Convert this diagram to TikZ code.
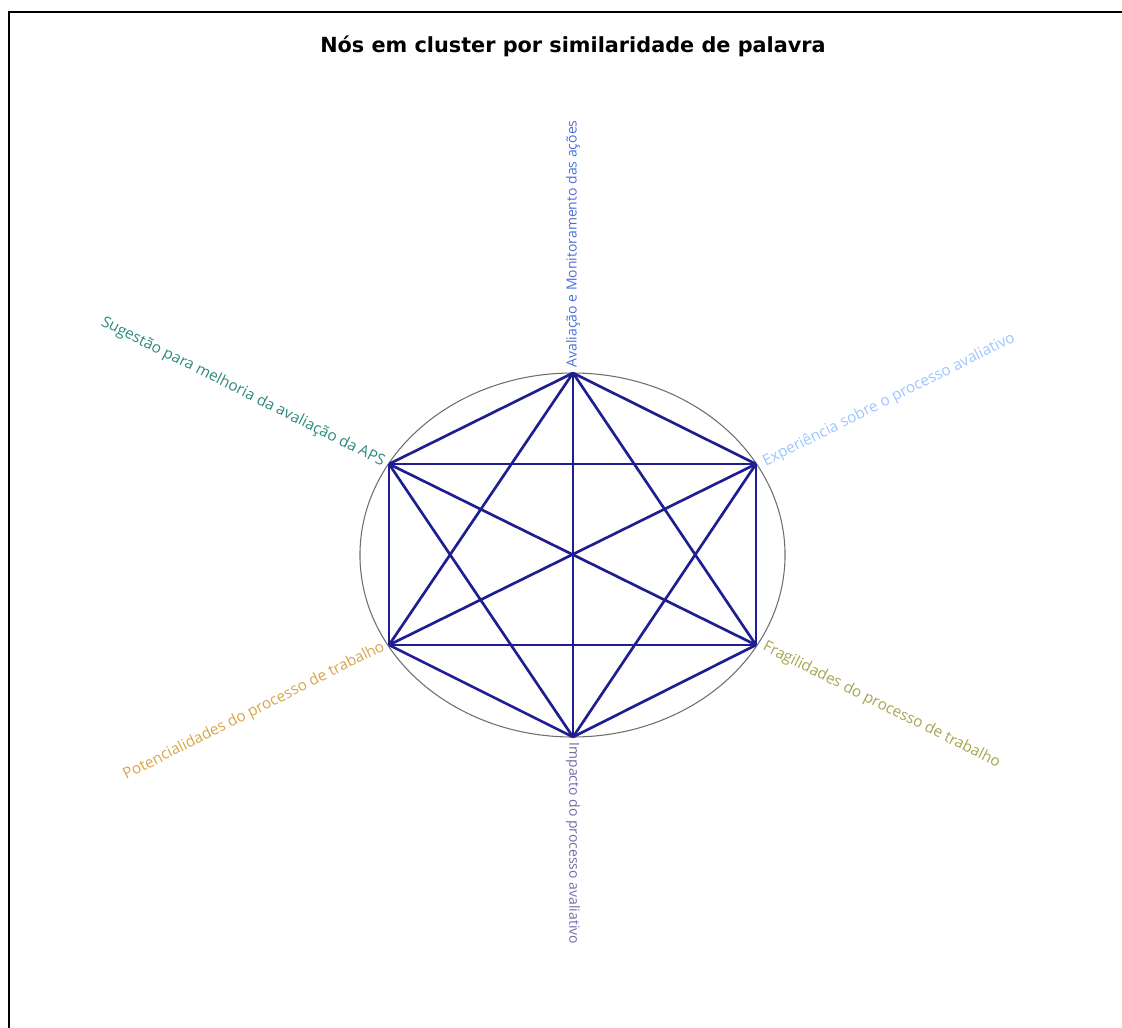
\documentclass[tikz,border=0pt]{standalone}
\usepackage{fontspec}
\setsansfont{Open Sans}
\newfontfamily\titlefont{DejaVu Sans}
\definecolor{EdgeNavy}{HTML}{1E1E90}
\definecolor{RingGray}{HTML}{6E6E6E}
\definecolor{AvalBlue}{HTML}{4D6FD6}
\definecolor{ExpBlue}{HTML}{9CC6FF}
\definecolor{SugTeal}{HTML}{2E8A80}
\definecolor{PotGold}{HTML}{D6A64E}
\definecolor{FragOlive}{HTML}{A6A652}
\definecolor{ImpSlate}{HTML}{6E6EA8}
\usetikzlibrary{positioning, shapes.geometric}

\begin{document}
\begin{tikzpicture}[
  x=0.75pt, y=-0.75pt,
  vtx/.style={circle, inner sep=0pt, minimum size=2pt},
  lbl/.style={font=\sffamily\fontsize{11.5}{13}\selectfont, inner sep=2pt},
  vlbl/.style={lbl, font=\sffamily\fontsize{10.5}{12}\selectfont},
  edge/.style={draw=EdgeNavy, line width=2pt},
]
  \useasboundingbox (0,0) rectangle (1122,1028);
  % frame (cut by the page on the right and bottom)
  \draw[line width=1.2pt] (9,1040) |- (1140,12);

  % title
  \node[font=\titlefont\bfseries\fontsize{15.6}{18}\selectfont] (title) at (573,46) {Nós em cluster por similaridade de palavra};

  % ring
  \node[ellipse, draw=RingGray, line width=0.8pt, minimum width=318.8pt, minimum height=273pt, inner sep=0pt] (ring) at (572.5,555) {};

  % vertices
  \node[vtx] (av) at (573,373) {};
  \node[vtx] (ex) at (756,464) {};
  \node[vtx] (fr) at (756,645) {};
  \node[vtx] (im) at (573,737) {};
  \node[vtx] (po) at (389,645) {};
  \node[vtx] (su) at (389,464) {};

  % all pairs
  \foreach \a/\b in {av/ex, av/fr, av/im, av/po, av/su,
                     ex/fr, ex/im, ex/po, ex/su,
                     fr/im, fr/po, fr/su,
                     im/po, im/su, po/su}
    \draw[edge] (\a.center) -- (\b.center);

  % labels
  \node[vlbl, text=AvalBlue, rotate=90, anchor=west] (avl) at ([yshift=2pt]av.center) {Avaliação e Monitoramento das ações};
  \node[lbl, text=ExpBlue, rotate=26.6, anchor=west] (exl) at ([xshift=4pt]ex.center) {Experiência sobre o processo avaliativo};
  \node[lbl, text=FragOlive, rotate=-26.6, anchor=west] (frl) at ([xshift=4pt]fr.center) {Fragilidades do processo de trabalho};
  \node[vlbl, text=ImpSlate, rotate=-90, anchor=west] (iml) at ([yshift=-2pt]im.center) {Impacto do processo avaliativo};
  \node[lbl, text=PotGold, rotate=26.6, anchor=east] (pol) at ([xshift=-2pt]po.center) {Potencialidades do processo de trabalho};
  \node[lbl, text=SugTeal, rotate=-26.6, anchor=east] (sul) at ([xshift=-2pt]su.center) {Sugestão para melhoria da avaliação da APS};
\end{tikzpicture}
\end{document}
